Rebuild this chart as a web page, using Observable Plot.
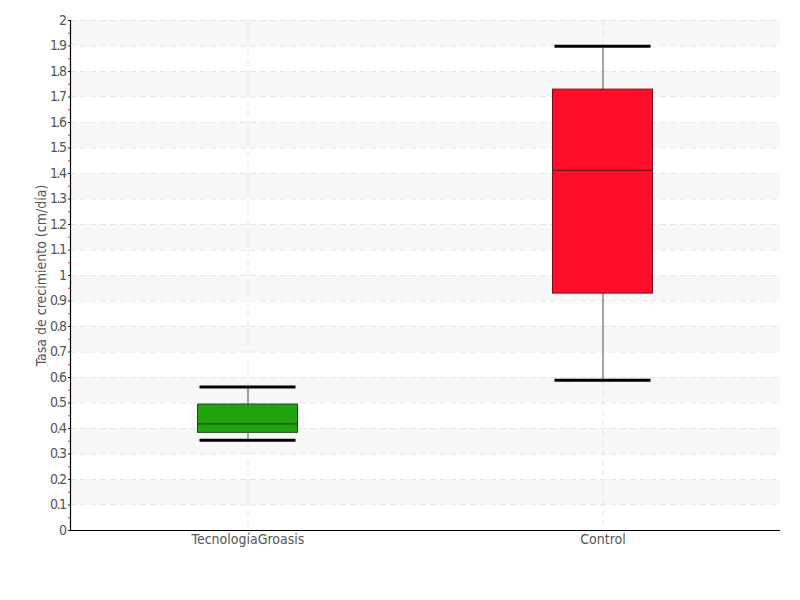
<!DOCTYPE html>
<html><head><meta charset="utf-8">
<script src="https://cdn.jsdelivr.net/npm/d3@7"></script>
<script src="https://cdn.jsdelivr.net/npm/@observablehq/plot@0.6"></script>
<style>
body{margin:0;background:#fff;}
svg{font-family:"DejaVu Sans Condensed","DejaVu Sans",sans-serif;font-stretch:condensed;}
</style></head><body><div id="chart"></div>
<script>
const categories = ["TecnologíaGroasis", "Control"];
const whiskerLow = [0.354, 0.589];
const q1 = [0.383, 0.929];
const median = [0.418, 1.412];
const q3 = [0.494, 1.729];
const whiskerHigh = [0.563, 1.899];
const colors = ["#21a30f", "#ff0e2b"];
const edgeColors = ["#1b4d12", "#7a1020"];
const yTicks = [0,0.1,0.2,0.3,0.4,0.5,0.6,0.7,0.8,0.9,1,1.1,1.2,1.3,1.4,1.5,1.6,1.7,1.8,1.9,2];
const yMinorTicks = [0.05,0.15,0.25,0.35,0.45,0.55,0.65,0.75,0.85,0.95,1.05,1.15,1.25,1.35,1.45,1.55,1.65,1.75,1.85,1.95];
const bandStarts = [0.1,0.3,0.5,0.7,0.9,1.1,1.3,1.5,1.7,1.9];
const yTitle = "Tasa de crecimiento (cm/día)";

const data = categories.map((c, i) => ({
  cat: c, lo: whiskerLow[i], q1: q1[i], med: median[i], q3: q3[i], hi: whiskerHigh[i],
  fill: colors[i], edge: edgeColors[i]
}));

const inset = 127.5;
const chart = Plot.plot({
  width: 800, height: 600,
  marginLeft: 70, marginRight: 20, marginTop: 20, marginBottom: 70,
  style: {fontSize: "14px", color: "#555"},
  x: {domain: categories, padding: 0, axis: null},
  y: {domain: [0, 2], axis: null},
  marks: [
    Plot.rect(bandStarts, {y1: d => d, y2: d => d + 0.1, fill: "#f8f8f8"}),
    Plot.ruleY(yTicks.slice(1), {stroke: "#e6e6e6", strokeDasharray: "6,4"}),
    Plot.ruleX(categories, {x: d => d, stroke: "#e6e6e6", strokeDasharray: "6,4"}),
    Plot.ruleX(data, {x: "cat", y1: "lo", y2: "hi", stroke: "#777", strokeWidth: 1.3}),
    Plot.barY(data, {x: "cat", y1: "q1", y2: "q3", fill: "fill", stroke: "edge", strokeWidth: 1, insetLeft: inset, insetRight: inset}),
    Plot.tickY(data, {x: "cat", y: "med", stroke: "edge", strokeWidth: 1.2, insetLeft: inset, insetRight: inset}),
    Plot.tickY(data, {x: "cat", y: "lo", stroke: "#000", strokeWidth: 3, insetLeft: inset + 2, insetRight: inset + 2}),
    Plot.tickY(data, {x: "cat", y: "hi", stroke: "#000", strokeWidth: 3, insetLeft: inset + 2, insetRight: inset + 2}),
    Plot.axisY(yMinorTicks, {tickSize: 2, tickFormat: () => "", stroke: "#ff3030", label: null}),
    Plot.axisY(yTicks, {tickSize: 2, tickPadding: 3, tickFormat: d => String(+d.toFixed(1)), stroke: "#222", fill: "#555", label: null, ariaLabel: "ytl"}),
    Plot.text([yTitle], {text: d => d, frameAnchor: "left", textAnchor: "middle", rotate: -90, dx: -29, fill: "#555", fontSize: 14}),
    Plot.axisX({tickSize: 0, tickPadding: 4, fill: "#555", label: null}),
    Plot.ruleY([0], {stroke: "#000", strokeWidth: 1.2}),
    Plot.ruleX([0], {x: () => categories[0], stroke: "#000", strokeWidth: 1.2, dx: -177.5})
  ]
});
document.getElementById("chart").appendChild(chart);
chart.querySelectorAll("g").forEach(g => {
  const lab = g.getAttribute("aria-label") || "";
  if (lab.startsWith("y") && lab.includes("label")) {
    g.querySelectorAll("text").forEach(t => t.style.letterSpacing = "-1.5px");
  }
});
</script></body></html>
